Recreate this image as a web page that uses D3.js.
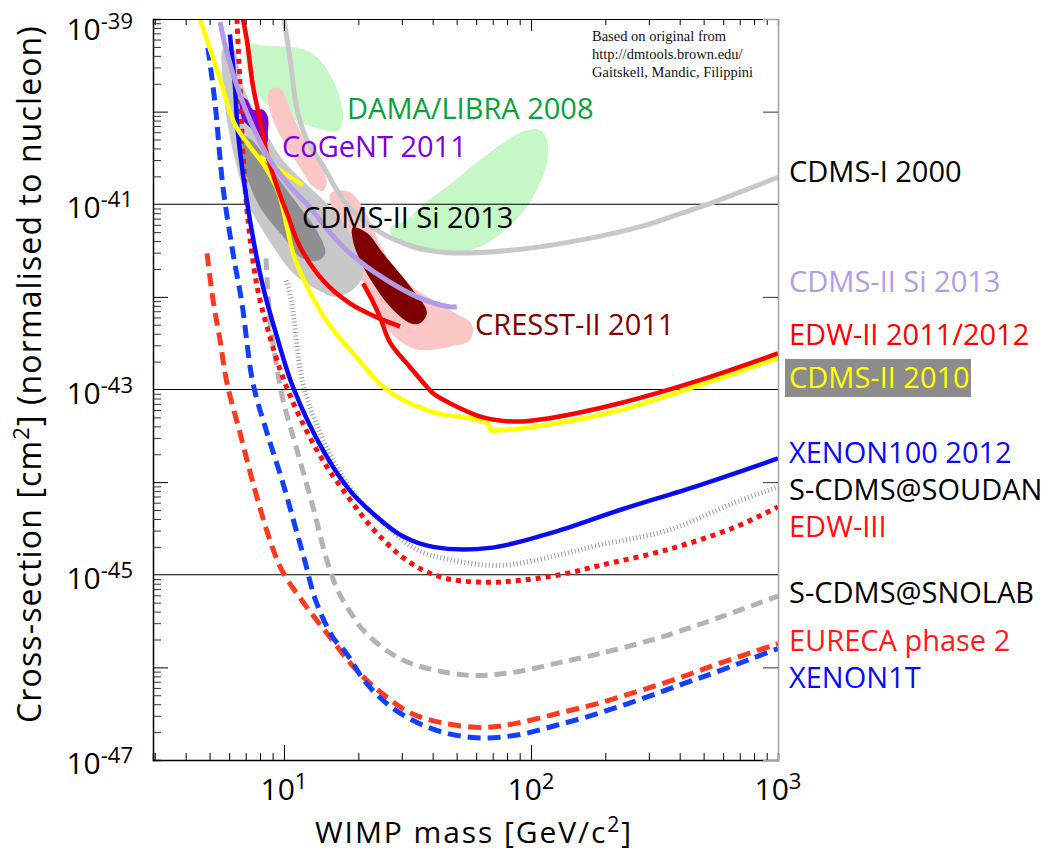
<!DOCTYPE html>
<html><head><meta charset="utf-8">
<script src="https://cdn.jsdelivr.net/npm/d3@7"></script>
<style>
body{margin:0;background:#fff}
svg{display:block}
</style>
</head><body>
<svg id="c" width="1049" height="862" font-family="'Open Sans', sans-serif"></svg>
<script>
// ---------- DATA (WIMP mass in GeV/c^2, cross-section in cm^2) ----------
const xenon100_2012 = [[6.04,6.8e-40],[6.33,1.9e-40],[6.51,5.9e-41],[7.28,6.8e-42],[8.22,1.3e-42],[9.37,3.7e-43],[10.9,1.05e-43],[14.4,2.2e-44],[18.5,8.1e-45],[23.8,4.2e-45],[30.3,2.6e-45],[40.1,2.0e-45],[68.2,1.95e-45],[119,2.8e-45],[229,5.0e-45],[483,9.3e-45],[1000,1.8e-44]];
const edw3 = [[6.45,1.0e-39],[6.64,1.9e-40],[6.82,3.5e-41],[7.15,6.8e-42],[7.78,1.3e-42],[8.61,4.4e-43],[9.9,1.35e-43],[11.6,5.0e-44],[14.4,1.7e-44],[18.5,6.5e-45],[23.8,2.8e-45],[32.4,1.35e-45],[44.0,9.3e-46],[64.0,8.3e-46],[90.2,8.7e-46],[131,1.0e-45],[190,1.26e-45],[355,1.86e-45],[658,3.2e-45],[1000,5.4e-45]];
const scdmsSoudan = [[10.2,1.5e-42],[10.7,9.3e-43],[11.9,1.2e-43],[14.0,3.4e-44],[16.4,1.45e-44],[19.7,6.9e-45],[25.2,3.6e-45],[34.6,1.86e-45],[47.0,1.45e-45],[74.9,1.26e-45],[119,1.55e-45],[190,2.1e-45],[355,3.0e-45],[658,5.9e-45],[1000,8.9e-45]];
const scdmsSnolab = [[8.46,2.6e-42],[8.78,5.6e-43],[9.37,1.7e-43],[9.9,7.8e-44],[11.3,2.2e-44],[13.1,5.4e-45],[14.9,1.45e-45],[16.5,6.8e-46],[18.5,4.0e-46],[21.3,2.4e-46],[30.3,1.2e-46],[53.6,8.3e-47],[81.5,8.7e-47],[129,1.12e-46],[188,1.4e-46],[333,2.1e-46],[587,3.5e-46],[1000,5.9e-46]];
const eureca2 = [[4.88,2.95e-42],[5.16,9.3e-43],[5.51,3.4e-43],[5.88,1.17e-43],[6.64,3.4e-44],[7.49,9.8e-45],[8.78,2.35e-45],[9.8,1.12e-45],[12.2,4.7e-46],[15.4,2.1e-46],[19.2,1.0e-46],[24.2,5.6e-47],[32.7,3.2e-47],[44.4,2.5e-47],[65.2,2.25e-47],[87.8,2.5e-47],[129,3.2e-47],[188,4.1e-47],[276,5.6e-47],[404,7.8e-47],[587,1.12e-46],[1000,1.8e-46]];
const xenon1t = [[4.92,4.9e-40],[5.26,1.23e-40],[5.66,1.55e-41],[6.22,2.95e-42],[6.76,8.5e-43],[7.49,1.17e-43],[8.54,3.4e-44],[9.9,9.8e-45],[11.3,2.8e-45],[12.2,1.35e-45],[13.4,5.4e-46],[15.8,2.1e-46],[17.8,1.45e-46],[21.5,6.8e-47],[28.1,3.5e-47],[41.2,2.1e-47],[60.4,1.74e-47],[87.8,1.86e-47],[129,2.4e-47],[188,3.2e-47],[276,4.5e-47],[404,6.5e-47],[587,9.3e-47],[1000,1.6e-46]];
const cdms2010 = [[4.57,1.0e-39],[5.36,2.8e-40],[6.22,8.1e-41],[7.28,4.2e-41],[8.54,2.35e-41],[9.63,1.2e-41],[10.9,2.95e-42],[12.4,1.3e-42],[13.6,8.1e-43],[15.8,4.4e-43],[18.5,2.7e-43],[25.2,1.07e-43],[37.9,6.0e-44],[67.0,4.3e-44],[68.9,3.6e-44],[119,4.2e-44],[229,6.0e-44],[483,1.12e-43],[1000,2.2e-43]];
const cdms2010Branch = [[8.0,3.3e-41],[11.9,1.6e-41]];
const cdms2010Top = [[6.82,1.0e-39],[7.08,5.2e-40]];
const edw2LowMass = [[6.82,1.0e-39],[7.08,5.9e-40],[7.49,1.9e-40],[8.0,8.1e-41],[8.54,3.5e-41],[9.37,1.55e-41],[10.3,7.9e-42],[11.6,3.5e-42],[14.4,1.5e-42],[18.5,8.5e-43],[23.8,6.0e-43],[29.5,4.8e-43]];
const edw2 = [[20.9,1.4e-42],[22.7,9.3e-43],[24.5,6.0e-43],[26.9,3.2e-43],[32.4,1.74e-43],[37.9,1.07e-43],[40.1,9.1e-44],[47.0,7.1e-44],[64.0,5.0e-44],[87.8,4.5e-44],[119,4.9e-44],[229,7.1e-44],[483,1.26e-43],[1000,2.45e-43]];
const cdms1_2000 = [[10,1.0e-39],[10.6,3.6e-40],[11.3,1.05e-40],[12.4,4.9e-41],[14.4,2.6e-41],[18.0,9.8e-42],[24.5,5.0e-42],[33.3,3.5e-42],[45.7,3.0e-42],[84.6,3.2e-42],[158,4.1e-42],[295,6.0e-42],[401,7.9e-42],[546,1.05e-41],[1000,1.95e-41]];
const cdmsSiLimit = [[5.51,9.3e-40],[5.88,4.3e-40],[6.45,1.9e-40],[7.28,8.1e-41],[8.78,3.0e-41],[10.6,1.55e-41],[12.7,9.3e-42],[15.4,4.9e-42],[18.5,2.95e-42],[25.2,1.6e-42],[34.6,1.0e-42],[47.0,7.8e-43],[50.1,7.8e-43]];

// signal regions (closed contours)
const damaLow = [[7.08,5.2e-40],[8.54,5.1e-40],[11.6,4.8e-40],[13.7,3.8e-40],[15.6,2.3e-40],[16.9,1.35e-40],[17.3,8.1e-41],[16.5,6.2e-41],[13.6,6.6e-41],[11.3,7.9e-41],[9.37,1.02e-40],[8.0,1.4e-40],[7.28,2.3e-40]];
const damaHigh = [[96.3,6.3e-41],[109,6.3e-41],[116,4.9e-41],[116,2.8e-41],[102,1.2e-41],[84.6,6.3e-42],[62.2,3.5e-42],[45.7,2.95e-42],[33.3,3.2e-42],[28.1,4.1e-42],[26.9,5.5e-42],[31.5,6.8e-42],[35.5,9.3e-42],[45.7,1.55e-41],[62.2,3.0e-41],[84.6,5.4e-41]];
const cresstLow = [[8.78,1.7e-40],[9.63,1.8e-40],[10.9,8.7e-41],[12.7,3.9e-41],[14.4,2.35e-41],[14.9,1.7e-41],[14.4,1.4e-41],[13.1,1.55e-41],[11.6,2.5e-41],[9.9,4.9e-41],[9.03,8.1e-41],[8.61,1.35e-40]];
const cresstHigh = [[15.4,1.3e-41],[18.5,1.35e-41],[21.7,7.6e-42],[25.2,3.2e-42],[32.4,1.35e-42],[47.0,7.2e-43],[57.7,5.0e-43],[56.6,3.4e-43],[47.0,2.9e-43],[34.6,2.7e-43],[28.1,3.7e-43],[23.3,7.2e-43],[20.3,1.74e-42],[17.7,4.1e-42],[16.1,7.6e-42]];
const cresstCore = [[19.0,5.6e-42],[21.7,4.9e-42],[25.2,2.95e-42],[32.4,1.3e-42],[37.9,6.8e-43],[35.5,5.2e-43],[32.4,5.2e-43],[26.9,7.8e-43],[22.9,1.4e-42],[20.3,2.5e-42],[19.0,4.1e-42]];
const cdmsSi90 = [[5.66,4.7e-40],[6.22,4.9e-40],[6.82,1.9e-40],[8.22,6.8e-41],[9.9,3.0e-41],[11.9,1.8e-41],[15.4,9.3e-42],[18.5,4.9e-42],[20.9,2.5e-42],[20.9,1.74e-42],[19.7,1.3e-42],[16.4,1.0e-42],[13.6,1.2e-42],[10.9,1.8e-42],[9.03,3.5e-42],[7.28,9.3e-42],[6.45,2.5e-41],[5.88,8.1e-41],[5.61,2.8e-40]];
const cdmsSi68 = [[6.64,5.6e-41],[7.42,4.9e-41],[8.54,3.0e-41],[9.63,1.8e-41],[11.6,9.3e-42],[13.7,5.0e-42],[14.7,2.95e-42],[13.6,2.45e-42],[11.6,2.7e-42],[9.9,4.5e-42],[8.0,9.3e-42],[7.08,1.95e-41],[6.57,3.6e-41]];
const cogent = [[6.64,1.45e-40],[7.08,1.35e-40],[7.49,1.05e-40],[8.22,1.05e-40],[8.61,8.7e-41],[8.61,5.9e-41],[8.54,4.6e-41],[8.22,4.7e-41],[7.78,5.9e-41],[7.28,6.8e-41],[6.82,8.1e-41],[6.64,1.05e-40]];

// tick labels
const xTickExponents = [1, 2, 3];
const yTickExponents = [-39, -41, -43, -45, -47];
const gridDecades = [1e-41, 1e-43, 1e-45];
const oddDecades = [1e-40, 1e-42, 1e-44, 1e-46];
const majorMass = [10, 100, 1000];

// label texts
const rightLabels = ["CDMS-I 2000","CDMS-II Si 2013","EDW-II 2011/2012","CDMS-II 2010","XENON100 2012","S-CDMS@SOUDAN","EDW-III","S-CDMS@SNOLAB","EURECA phase 2","XENON1T"];
const regionLabels = ["DAMA/LIBRA 2008","CoGeNT 2011","CDMS-II Si 2013","CRESST-II 2011"];
const creditLines = ["Based on original from","http://dmtools.brown.edu/","Gaitskell, Mandic, Filippini"];

// ---------- LAYOUT ----------
const L = 153, R = 778, T = 19, B = 760;
const x = d3.scaleLog().domain([2.95, 1000]).range([L, R]);
const y = d3.scaleLog().domain([1e-47, 1e-39]).range([B, T]);
const svg = d3.select('#c');
svg.append('defs').append('clipPath').attr('id','plot')
  .append('rect').attr('x',L).attr('y',T).attr('width',R-L).attr('height',B-T);
const plot = svg.append('g').attr('clip-path','url(#plot)');

const line = d3.line().x(d=>x(d[0])).y(d=>y(d[1])).curve(d3.curveCatmullRom.alpha(0.5));
const lineLin = d3.line().x(d=>x(d[0])).y(d=>y(d[1]));
const lineMono = d3.line().x(d=>x(d[0])).y(d=>y(d[1])).curve(d3.curveMonotoneX);
const closed = d3.line().x(d=>x(d[0])).y(d=>y(d[1])).curve(d3.curveCatmullRomClosed.alpha(0.5));

function region(data, fill){ plot.append('path').attr('d', closed(data)).attr('fill', fill).attr('stroke','none'); }
function curve(data, color, w, dash, gen){
  const p = plot.append('path').attr('d', (gen||line)(data)).attr('fill','none')
    .attr('stroke', color).attr('stroke-width', w).attr('stroke-linejoin','round');
  if (dash) p.attr('stroke-dasharray', dash);
  return p;
}

// regions (behind)
region(damaLow, '#c6f7c6');
region(damaHigh, '#c6f7c6');
plot.selectAll('line.grid').data(gridDecades).enter().append('line')
  .attr('x1',L).attr('x2',R).attr('y1',d=>y(d)).attr('y2',d=>y(d))
  .attr('stroke','#000').attr('stroke-width',1.2);
region(cresstLow, '#fbc6c6');
region(cresstHigh, '#fbc6c6');
region(cdmsSi90, '#c8c8c8');
region(cdmsSi68, '#8f8f8f');
region(cresstCore, '#7f0000');
region(cogent, '#7d00d9');

// exclusion curves
curve(cdms1_2000, '#c8c8c8', 5);
curve(scdmsSnolab, '#b3b3b3', 5, '12,7');
curve(eureca2, '#ff3b1f', 5, '13,7');
curve(xenon1t, '#1240ff', 5, '13,7');
curve(scdmsSoudan, '#9a9a9a', 5, '1,2.5');
curve(edw3, '#ff1010', 5, '5,5');
curve(xenon100_2012, '#0a0af5', 4.5);
curve(cdms2010Top, '#ffff00', 4);
curve(cdms2010, '#ffff00', 4.5, null, lineMono);
curve(cdms2010Branch, '#ffff00', 4, null, lineLin);
curve(edw2LowMass, '#ff0000', 4.5);
curve(edw2, '#ff0000', 4.5);
curve(cdmsSiLimit, '#b39be6', 5);

// ---------- AXES ----------
const ax = svg.append('g');
const minorX = x.ticks().filter(v => !majorMass.includes(v));
ax.append('g').attr('transform',`translate(0,${B})`)
  .call(d3.axisBottom(x).tickValues(minorX).tickSize(-7).tickFormat(''))
  .call(g=>g.select('.domain').attr('stroke','#000').attr('stroke-width',1.5));
ax.append('g').attr('transform',`translate(0,${B})`)
  .call(d3.axisBottom(x).tickValues(majorMass.slice(0,2)).tickSize(-15).tickFormat(''))
  .call(g=>g.select('.domain').remove());
ax.append('g').attr('transform',`translate(0,${T})`)
  .call(d3.axisTop(x).tickValues(minorX).tickSize(-6).tickFormat(''))
  .call(g=>g.select('.domain').attr('stroke','#000').attr('stroke-width',1.2));
ax.append('g').attr('transform',`translate(0,${T})`)
  .call(d3.axisTop(x).tickValues(majorMass.slice(0,2)).tickSize(-12).tickFormat(''))
  .call(g=>g.select('.domain').remove());
const minorY = y.ticks().filter(v => { const e = Math.log10(v); return Math.abs(e - Math.round(e)) > 1e-6; });
ax.append('g').attr('transform',`translate(${L},0)`)
  .call(d3.axisLeft(y).tickValues(minorY).tickSize(-8).tickFormat(''))
  .call(g=>g.select('.domain').attr('stroke','#000').attr('stroke-width',1.5))
  .call(g=>g.selectAll('.tick line').attr('stroke','#333'));
ax.append('g').attr('transform',`translate(${L},0)`)
  .call(d3.axisLeft(y).tickValues(oddDecades).tickSize(-15).tickFormat(''))
  .call(g=>g.select('.domain').remove());
ax.append('g').attr('transform',`translate(${R},0)`)
  .call(d3.axisRight(y).tickValues(oddDecades).tickSize(-15).tickFormat(''))
  .call(g=>g.select('.domain').attr('stroke','#a0a0a0').attr('stroke-width',1.5))
  .call(g=>g.selectAll('.tick line').attr('stroke','#333'));
ax.selectAll('path.domain').attr('fill','none');

// y tick labels
yTickExponents.forEach(e => {
  const yy = Math.max(y(Math.pow(10,e)) + 14, 40);
  const t = svg.append('text').attr('x',133).attr('y',yy).attr('text-anchor','end').attr('fill','#000');
  t.append('tspan').attr('font-size',30).text('10');
  t.append('tspan').attr('font-size',22).attr('dy',-11).text(String(e));
});
// x tick labels
xTickExponents.forEach(e => {
  const t = svg.append('text').attr('x',x(Math.pow(10,e))).attr('y',800).attr('text-anchor','middle').attr('fill','#000');
  t.append('tspan').attr('font-size',30).text('10');
  t.append('tspan').attr('font-size',22).attr('dy',-11).text(String(e));
});
// axis titles (stretched to the reference's extent)
function fitWidth(t, target){
  const n = t.text().length;
  const len = t.node().getComputedTextLength();
  t.attr('letter-spacing', ((target - len) / n).toFixed(2));
}
const xt = svg.append('text').attr('x',474).attr('y',843).attr('text-anchor','middle').attr('font-size',30);
xt.append('tspan').text('WIMP mass [GeV/c');
xt.append('tspan').attr('font-size',21).attr('dy',-11).text('2');
xt.append('tspan').attr('dy',11).text(']');
fitWidth(xt, 318);
const yt = svg.append('text').attr('transform','translate(41,374) rotate(-90)').attr('text-anchor','middle').attr('font-size',32);
yt.append('tspan').text('Cross-section [cm');
yt.append('tspan').attr('font-size',22).attr('dy',-12).text('2');
yt.append('tspan').attr('dy',12).text('] (normalised to nucleon)');
fitWidth(yt, 698);

// right-hand labels
const rightPos = [182, 292, 345, 388, 463, 500, 537, 603, 651, 688];
const rightCol = ['#000','#b39be6','#ff0000','#ffff00','#0a0af5','#000','#ff1010','#000','#ff1a1a','#0a0af5'];
svg.append('rect').attr('x',785).attr('y',359).attr('width',186).attr('height',38).attr('fill','#8c8c8c');
rightLabels.forEach((s,i) => {
  svg.append('text').attr('x',789).attr('y',rightPos[i]).attr('font-size',29).attr('fill',rightCol[i]).text(s);
});
// region labels
const regPos = [[347,119],[282,157],[302,228],[475,335]];
const regCol = ['#0aa03a','#8000e0','#000','#800000'];
regionLabels.forEach((s,i) => {
  svg.append('text').attr('x',regPos[i][0]).attr('y',regPos[i][1]).attr('font-size',29).attr('fill',regCol[i]).text(s);
});
// credit
creditLines.forEach((s,i) => {
  svg.append('text').attr('x',592).attr('y',41+i*18).attr('font-family','"Liberation Serif", serif')
    .attr('font-size',14.5).attr('fill','#111').text(s);
});
</script>
</body></html>
